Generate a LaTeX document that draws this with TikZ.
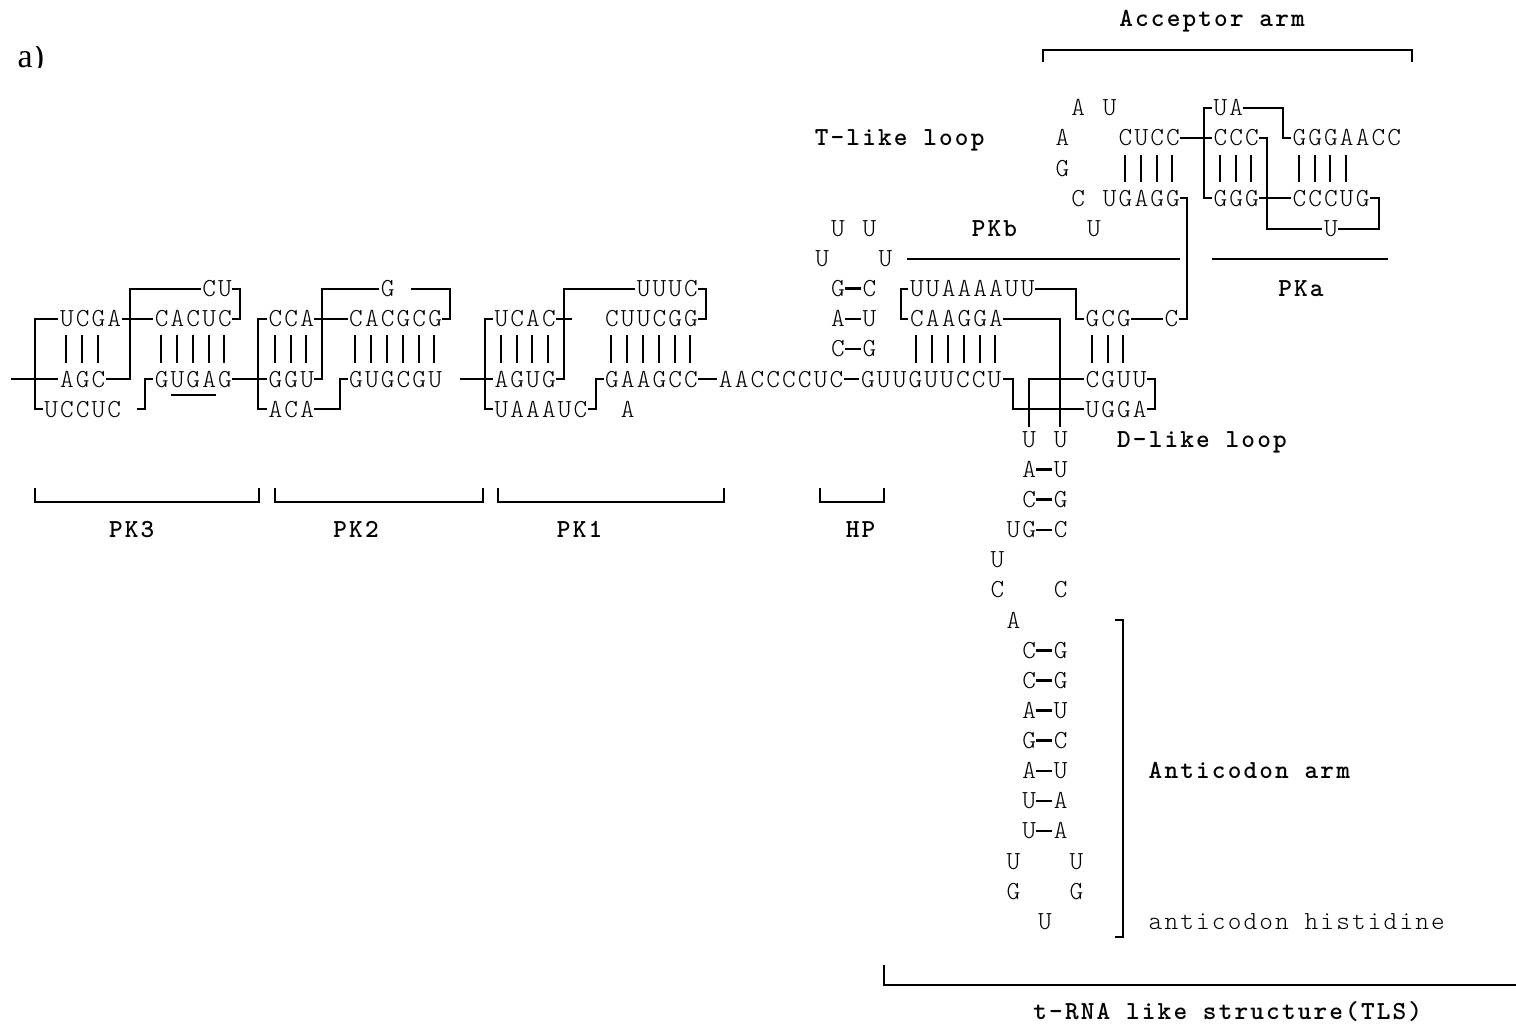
\documentclass[tikz,border=0pt]{standalone}
\usepackage{fontspec}
\newfontfamily\seqfont{lmmonolt10-regular.otf}[BoldFont=lmmonolt10-bold.otf,LetterSpace=8.3]
\newfontfamily\serifa{Liberation Serif}

% one column = one character cell, one row = one text line
\tikzset{
  seq/.style={anchor=base west,inner sep=0pt,font=\seqfont\fontsize{13}{15}\selectfont},
  lbl/.style={seq,font=\seqfont\bfseries\fontsize{13}{15}\selectfont},
  wire/.style={line width=1pt},
  pairbar/.style={line width=1pt},
  pairdash/.style={line width=1.3pt}
}
\newcommand{\seqat}[4]{\node[seq] (#1) at ({#2-0.42},{#3+0.26}) {#4};}
\newcommand{\lblat}[4]{\node[lbl] (#1) at ({#2-0.42},{#3+0.26}) {#4};}
\newcommand{\barsat}[2]{\foreach \c in {#2} {\draw[pairbar] (\c,{#1-0.45}) -- (\c,{#1+0.47});}}
\newcommand{\bpair}[5]{\seqat{#1-l}{#2}{#3}{#4}\seqat{#1-r}{#2+2}{#3}{#5}
  \draw[pairdash] ({#2+0.5},#3) -- ({#2+1.5},#3);}

\begin{document}
\begin{tikzpicture}[x=7.9pt,y=-15.065pt]
  \useasboundingbox (-1.196,-1.584) rectangle (94.75,32.567);

  % panel tag
  \begin{scope}
    \clip (-1.2,-0.025) rectangle (4,0.64);
    \node[font=\serifa\fontsize{17}{19}\selectfont,anchor=base west,inner sep=0pt] (tag) at (-0.1,0.67) {a)};
  \end{scope}

  % PK3
  \seqat{a1}{12}{8}{CU}
  \seqat{a2}{3}{9}{UCGA}
  \seqat{a3}{9}{9}{CACUC}
  \seqat{a4}{3}{11}{AGC}
  \seqat{a5}{9}{11}{GUGAG}
  \seqat{a6}{2}{12}{UCCUC}
  \barsat{10}{3,4,5,9,10,11,12,13}
  \draw[wire] (2.5,9) -- (1,9) -- (1,12) -- (1.5,12);
  \draw[wire] (-0.5,11) -- (2.5,11);
  \draw[wire] (6.5,9) -- (8.5,9);
  \draw[wire] (5.5,11) -- (7,11) -- (7,8) -- (11.5,8);
  \draw[wire] (13.5,8) -- (14,8) -- (14,9) -- (13.5,9);
  \draw[wire] (7.5,12) -- (8,12) -- (8,11) -- (8.5,11);
  \draw[wire] (9.6,11.52) -- (12.5,11.52);
  \draw[wire] (13.5,11) -- (15.7,11);

  % PK2
  \seqat{b1}{23.3}{8}{G}
  \seqat{b2}{16.2}{9}{CCA}
  \seqat{b3}{21.3}{9}{CACGCG}
  \seqat{b4}{16.2}{11}{GGU}
  \seqat{b5}{21.3}{11}{GUGCGU}
  \seqat{b6}{16.2}{12}{ACA}
  \barsat{10}{16.2,17.2,18.2,21.3,22.3,23.3,24.3,25.3,26.3}
  \draw[wire] (15.7,9) -- (15.15,9) -- (15.15,12) -- (15.7,12);
  \draw[wire] (18.7,9) -- (20.8,9);
  \draw[wire] (18.7,11) -- (19.2,11) -- (19.2,8) -- (22.8,8);
  \draw[wire] (24.8,8) -- (27.3,8) -- (27.3,9) -- (26.8,9);
  \draw[wire] (18.7,12) -- (20.3,12) -- (20.3,11) -- (20.8,11);
  \draw[wire] (27.9,11) -- (30,11);

  % PK1
  \seqat{c1}{39.5}{8}{UUUC}
  \seqat{c2}{30.5}{9}{UCAC}
  \seqat{c3}{37.5}{9}{CUUCGG}
  \seqat{c4}{30.5}{11}{AGUG}
  \seqat{c5}{37.5}{11}{GAAGCC}
  \seqat{c6}{30.5}{12}{UAAAUC}
  \seqat{c7}{38.5}{12}{A}
  \barsat{10}{30.5,31.5,32.5,33.5,37.5,38.5,39.5,40.5,41.5,42.5}
  \draw[wire] (30,9) -- (29.5,9) -- (29.5,12) -- (30,12);
  \draw[wire] (34,9) -- (35,9);
  \draw[wire] (34,11) -- (34.5,11) -- (34.5,8) -- (39,8);
  \draw[wire] (43,8) -- (43.5,8) -- (43.5,9) -- (43,9);
  \draw[wire] (36,12) -- (36.5,12) -- (36.5,11) -- (37,11);
  \draw[wire] (43,11) -- (44.2,11);

  % linker and HP
  \seqat{d1}{44.7}{11}{AACCCCUC}
  \seqat{d2}{53.7}{11}{GUUGUUCCU}
  \draw[wire] (52.2,11) -- (53.2,11);
  \seqat{h1}{51.8}{6}{U}
  \seqat{h2}{53.8}{6}{U}
  \seqat{h3}{50.8}{7}{U}
  \seqat{h4}{54.8}{7}{U}
  \bpair{h5}{51.8}{8}{G}{C}
  \bpair{h6}{51.8}{9}{A}{U}
  \bpair{h7}{51.8}{10}{C}{G}

  % PKb stem and D-like loop
  \seqat{e1}{56.8}{8}{UUAAAAUU}
  \seqat{e2}{56.8}{9}{CAAGGA}
  \seqat{e3}{67.9}{9}{GCG}
  \seqat{e4}{72.9}{9}{C}
  \seqat{e5}{67.9}{11}{CGUU}
  \seqat{e6}{67.9}{12}{UGGA}
  \barsat{10}{56.8,57.8,58.8,59.8,60.8,61.8,67.9,68.9,69.9}
  \draw[wire] (56.3,8) -- (55.8,8) -- (55.8,9) -- (56.3,9);
  \draw[wire] (64.3,8) -- (66.9,8) -- (66.9,9) -- (67.4,9);
  \draw[wire] (62.3,9) -- (65.9,9) -- (65.9,12.6);
  \draw[wire] (70.4,9) -- (72.4,9);
  \draw[wire] (73.4,9) -- (73.9,9) -- (73.9,5) -- (73.5,5);
  \draw[wire] (62.3,11) -- (62.9,11) -- (62.9,12) -- (67.4,12);
  \draw[wire] (63.9,12.6) -- (63.9,11) -- (67.4,11);
  \draw[wire] (71.4,11) -- (71.9,11) -- (71.9,12) -- (71.4,12);
  \draw[wire] (56.2,7) -- (73.5,7);
  \draw[wire] (75.5,7) -- (86.65,7);

  % anticodon arm
  \seqat{f1}{63.9}{13}{U}
  \seqat{f2}{65.9}{13}{U}
  \bpair{g1}{63.9}{14}{A}{U}
  \bpair{g2}{63.9}{15}{C}{G}
  \seqat{g3}{62.9}{16}{U}
  \bpair{g4}{63.9}{16}{G}{C}
  \seqat{g5}{61.9}{17}{U}
  \seqat{g6}{61.9}{18}{C}
  \seqat{g7}{65.9}{18}{C}
  \seqat{g8}{62.9}{19}{A}
  \foreach \p/\q [count=\i from 20] in {C/G,C/G,A/U,G/C,A/U,U/A,U/A}
    {\bpair{ac\i}{63.9}{\i}{\p}{\q}}
  \seqat{g9}{62.9}{27}{U}
  \seqat{g10}{66.9}{27}{U}
  \seqat{g11}{62.9}{28}{G}
  \seqat{g12}{66.9}{28}{G}
  \seqat{g13}{64.9}{29}{U}
  \draw[wire] (69.4,19) -- (69.9,19) -- (69.9,29.5) -- (69.4,29.5);

  % T-like loop, PKa and acceptor stem
  \seqat{k1}{67}{2}{A}
  \seqat{k2}{69}{2}{U}
  \seqat{k3}{76}{2}{UA}
  \seqat{k4}{66}{3}{A}
  \seqat{k5}{70}{3}{CUCC}
  \seqat{k6}{76}{3}{CCC}
  \seqat{k7}{81}{3}{GGGAACC}
  \seqat{k8}{66}{4}{G}
  \seqat{k9}{67}{5}{C}
  \seqat{k10}{69}{5}{UGAGG}
  \seqat{k11}{76}{5}{GGG}
  \seqat{k12}{81}{5}{CCCUG}
  \seqat{k13}{68}{6}{U}
  \seqat{k14}{83}{6}{U}
  \barsat{4}{70,71,72,73,76,77,78,81,82,83,84}
  \draw[wire] (75.5,2) -- (75,2) -- (75,5) -- (75.5,5);
  \draw[wire] (77.5,2) -- (80,2) -- (80,3) -- (80.5,3);
  \draw[wire] (73.5,3) -- (75.5,3);
  \draw[wire] (78.5,3) -- (79,3) -- (79,6) -- (82.5,6);
  \draw[wire] (83.5,6) -- (86.1,6) -- (86.1,5) -- (85.5,5);
  \draw[wire] (78.5,5) -- (80.5,5);

  % labels and brackets
  \lblat{l1}{70.04}{-0.954}{Acceptor arm}
  \draw[wire] (64.82,0.47) -- (64.82,0.075) -- (88.17,0.075) -- (88.17,0.47);
  \lblat{l2}{50.77}{3}{T-like loop}
  \lblat{l3}{60.7}{6}{PKb}
  \lblat{l4}{80.1}{8}{PKa}
  \lblat{l5}{69.9}{13}{D-like loop}
  \lblat{l6}{71.9}{24}{Anticodon arm}
  \seqat{l7}{71.9}{29}{anticodon histidine}
  \draw[wire] (1,14.61) -- (1,15.08) -- (15.2,15.08) -- (15.2,14.61);
  \draw[wire] (16.2,14.61) -- (16.2,15.08) -- (29.4,15.08) -- (29.4,14.61);
  \draw[wire] (30.3,14.61) -- (30.3,15.08) -- (44.6,15.08) -- (44.6,14.61);
  \draw[wire] (50.7,14.61) -- (50.7,15.08) -- (54.75,15.08) -- (54.75,14.61);
  \lblat{l8}{6.1}{16}{PK3}
  \lblat{l9}{20.3}{16}{PK2}
  \lblat{l10}{34.45}{16}{PK1}
  \lblat{l11}{52.73}{16}{HP}
  \draw[wire] (54.75,30.44) -- (54.75,31.1) -- (94.75,31.1);
  \lblat{l12}{64.6}{32}{t-RNA like structure(TLS)}
\end{tikzpicture}
\end{document}
